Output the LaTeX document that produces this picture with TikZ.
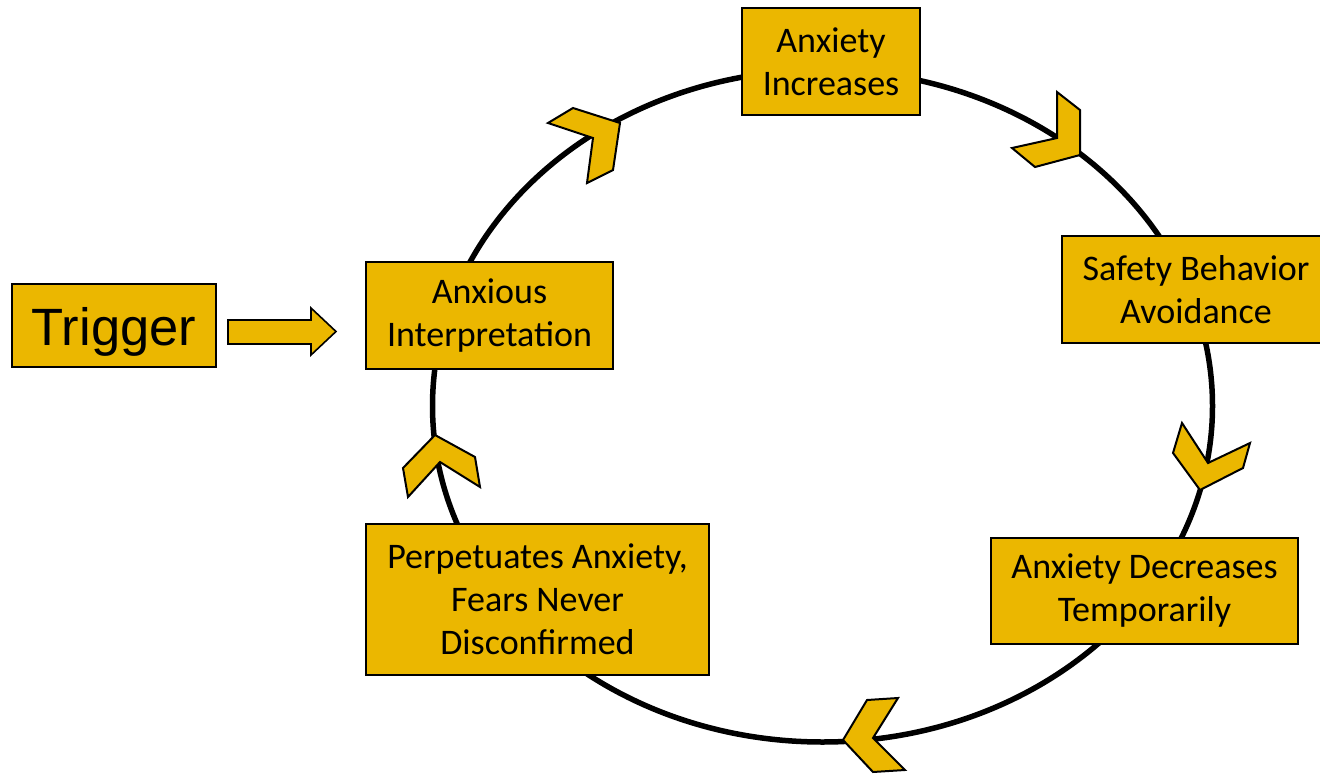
\documentclass[tikz,border=0pt]{standalone}
\usepackage{fontspec}
\setmainfont{Carlito}
\newfontfamily\trigfont{Liberation Sans}
\definecolor{gold}{RGB}{235,183,0}
\begin{document}
\begin{tikzpicture}[x=1pt,y=-1pt,
  box/.style={draw=black,line width=1.6pt,fill=gold,inner sep=0pt,align=center,
    font=\fontsize{36}{43}\selectfont},
  chev/.style={draw=black,line width=2pt,fill=gold,line join=miter}]
\useasboundingbox (0,0) rectangle (1320,774);
% cycle
\draw[line width=5.5pt] (822.5,406) ellipse [x radius=390, y radius=336];
% chevrons
\draw[chev] (548,123)--(573,108)--(620,123)--(613,170)--(587,183)--(593,138)--cycle;
\draw[chev] (1057,92)--(1080,110)--(1080,155)--(1035,167)--(1012,148)--(1057,138)--cycle;
\draw[chev] (1182,423)--(1208,463)--(1250,443)--(1243,468)--(1200,490)--(1173,453)--cycle;
\draw[chev] (867,700)--(898,698)--(873,738)--(905,770)--(873,772)--(843,740)--cycle;
\draw[chev] (435,435)--(475,457)--(480,487)--(440,462)--(408,497)--(403,468)--cycle;
% boxes
\node[box,minimum width=178pt,minimum height=107pt] (inc) at (831,61.5) {Anxiety\\Increases};
\node[box,minimum width=268pt,minimum height=107pt] (safe) at (1196,289.5) {Safety Behavior\\Avoidance};
\node[box,minimum width=307pt,minimum height=106pt] (dec) at (1144.5,591) {Anxiety Decreases\\Temporarily};
\node[box,minimum width=343pt,minimum height=151pt] (perp) at (537.5,599.5) {Perpetuates Anxiety,\\Fears Never\\Disconfirmed};
\node[box,minimum width=247pt,minimum height=107pt] (interp) at (489.5,315.5) {Anxious\\Interpretation};
\node[box,minimum width=204pt,minimum height=83pt,text height=45pt,text depth=6pt,font=\trigfont\fontsize{52.5}{60}\selectfont] (trig) at (114,325.5) {Trigger};
% block arrow
\draw[chev,line width=1.6pt] (228,320)--(311,320)--(311,308)--(336,331.5)--(311,355)--(311,344)--(228,344)--cycle;
\end{tikzpicture}
\end{document}
